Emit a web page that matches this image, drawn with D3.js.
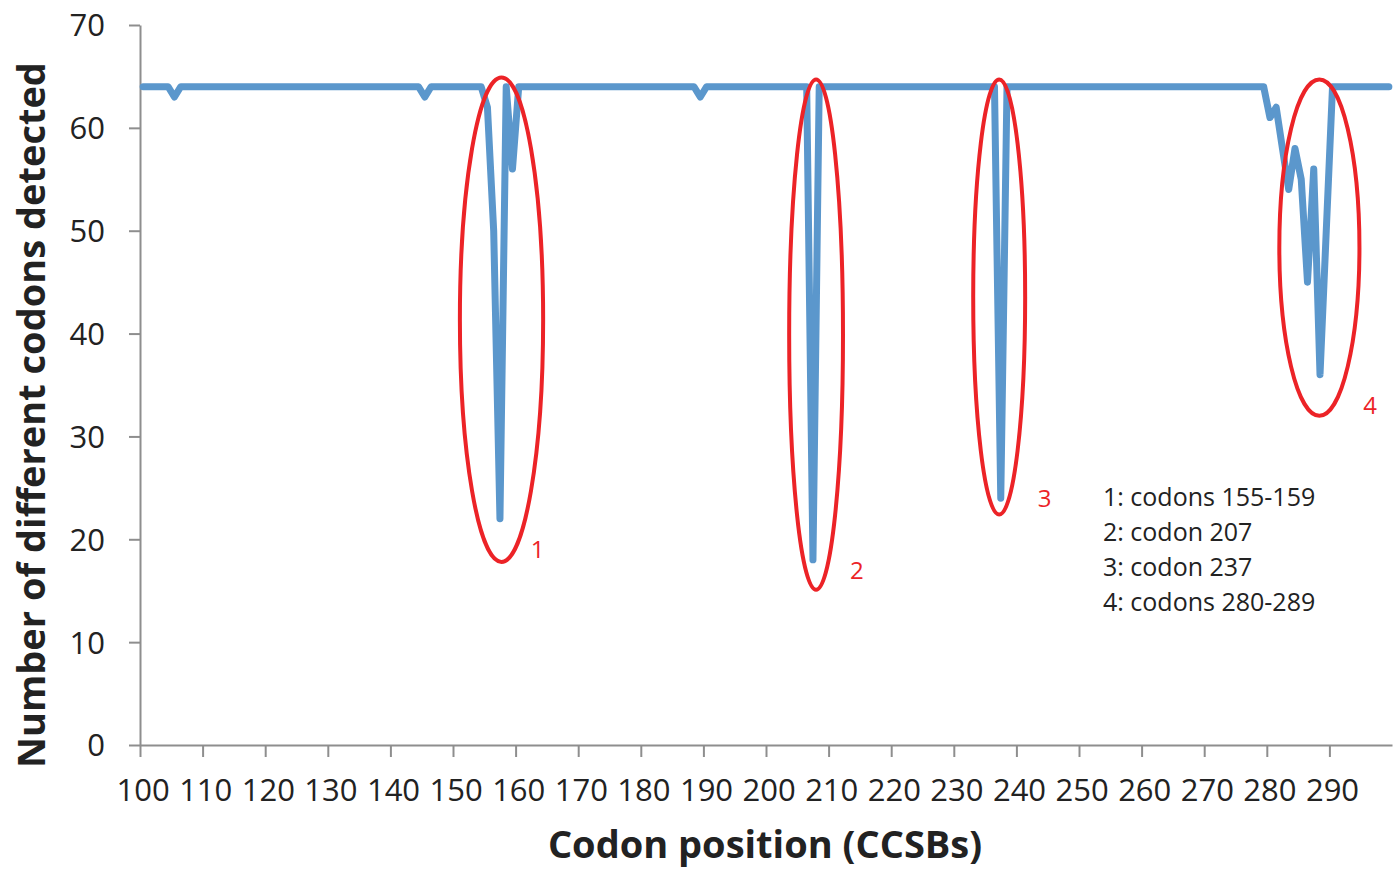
<!DOCTYPE html>
<html>
<head>
<meta charset="utf-8">
<script src="https://cdn.jsdelivr.net/npm/d3@7"></script>
<style>
  body { margin: 0; background: #fff; }
  text { font-family: "Open Sans", sans-serif; }
</style>
</head>
<body>
<svg id="svg1" width="1398" height="871"></svg>
<script>
"use strict"

// codon positions 100..299
const codons = d3.range(100, 300);

// number of different codons detected at each position
const detected = [
  64,64,64,64,64,63,64,64,64,64,   // 100
  64,64,64,64,64,64,64,64,64,64,   // 110
  64,64,64,64,64,64,64,64,64,64,   // 120
  64,64,64,64,64,64,64,64,64,64,   // 130
  64,64,64,64,64,63,64,64,64,64,   // 140
  64,64,64,64,64,62,50,22,64,56,   // 150
  64,64,64,64,64,64,64,64,64,64,   // 160
  64,64,64,64,64,64,64,64,64,64,   // 170
  64,64,64,64,64,64,64,64,64,63,   // 180
  64,64,64,64,64,64,64,64,64,64,   // 190
  64,64,64,64,64,64,64,18,64,64,   // 200
  64,64,64,64,64,64,64,64,64,64,   // 210
  64,64,64,64,64,64,64,64,64,64,   // 220
  64,64,64,64,64,64,64,24,64,64,   // 230
  64,64,64,64,64,64,64,64,64,64,   // 240
  64,64,64,64,64,64,64,64,64,64,   // 250
  64,64,64,64,64,64,64,64,64,64,   // 260
  64,64,64,64,64,64,64,64,64,64,   // 270
  61,62,58,54,58,55,45,56,36,50,   // 280
  64,64,64,64,64,64,64,64,64,64    // 290
];

// axis ticks
const xTickLabels = d3.range(100, 300, 10);
const yTicks = [0, 10, 20, 30, 40, 50, 60, 70];

// highlighted regions: [codon from, codon to, value low, value high]
const regionBounds = [
  [150.6, 163.9, 17.8, 64.9],
  [203.2, 211.8, 15.1, 64.7],
  [232.6, 240.9, 22.4, 64.7],
  [281.5, 294.3, 32.0, 64.7]
];
const regionLabels = ["1", "2", "3", "4"];
// where each number sits: [codon, value]
const regionLabelPos = [[163, 19], [214, 17], [244, 24], [296, 33]];

const legendLines = [
  "1: codons 155-159",
  "2: codon 207",
  "3: codon 237",
  "4: codons 280-289"
];

const data = codons.map((c, i) => ({codon: c, value: detected[i]}));

const svg = d3.select("#svg1");
const margin = {left: 140, right: 6, top: 25, bottom: 126};
const width = 1398 - margin.left - margin.right;
const height = 871 - margin.top - margin.bottom;

// category axis: each codon in the middle of its slot
const x = d3.scaleLinear().domain([99.5, 299.5]).range([0, width]);
const y = d3.scaleLinear().domain([0, 70]).range([height, 0]);

const g = svg.append("g")
  .attr("transform", `translate(${margin.left},${margin.top})`);

const axisColor = "#8e8e8e";

// y axis
const yAxis = g.append("g")
  .call(d3.axisLeft(y).tickValues(yTicks).tickSize(11).tickSizeOuter(0).tickPadding(24));
yAxis.select(".domain").attr("stroke", axisColor).attr("stroke-width", 2);
yAxis.selectAll(".tick line").attr("stroke", axisColor).attr("stroke-width", 2);
yAxis.selectAll(".tick text")
  .attr("fill", "#222")
  .style("font-size", "31px")
  .style("font-family", "Open Sans")
  .attr("dy", "0.35em");

// x axis: tick marks between slots, labels under the codon itself
const xAxis = g.append("g")
  .attr("transform", `translate(0,${height})`)
  .call(d3.axisBottom(x).tickValues(xTickLabels.map(d => d - 0.5))
    .tickSize(12).tickSizeOuter(0).tickFormat(""));
xAxis.select(".domain").attr("stroke", axisColor).attr("stroke-width", 2);
xAxis.selectAll(".tick line").attr("stroke", axisColor).attr("stroke-width", 2);

g.selectAll(".xlabel")
  .data(xTickLabels)
  .enter().append("text")
    .attr("class", "xlabel")
    .attr("x", d => x(d))
    .attr("y", height + 56)
    .attr("text-anchor", "middle")
    .attr("fill", "#222")
    .style("font-size", "31px")
    .text(d => d);

// the line
const line = d3.line()
  .x(d => x(d.codon))
  .y(d => y(d.value));

g.append("path")
  .datum(data)
  .attr("d", line)
  .attr("fill", "none")
  .attr("stroke", "#5b97cc")
  .attr("stroke-width", 7)
  .attr("stroke-linejoin", "round")
  .attr("stroke-linecap", "round");

// red ellipses around the dips
g.selectAll(".region")
  .data(regionBounds)
  .enter().append("ellipse")
    .attr("class", "region")
    .attr("cx", d => (x(d[0]) + x(d[1])) / 2)
    .attr("cy", d => (y(d[2]) + y(d[3])) / 2)
    .attr("rx", d => (x(d[1]) - x(d[0])) / 2)
    .attr("ry", d => (y(d[2]) - y(d[3])) / 2)
    .attr("fill", "none")
    .attr("stroke", "#ec2327")
    .attr("stroke-width", 4);

g.selectAll(".region-label")
  .data(regionLabelPos)
  .enter().append("text")
    .attr("class", "region-label")
    .attr("x", d => x(d[0]))
    .attr("y", d => y(d[1]))
    .attr("dy", "0.35em")
    .attr("text-anchor", "middle")
    .attr("fill", "#ec2327")
    .style("font-size", "24px")
    .text((d, i) => regionLabels[i]);

// legend text
g.selectAll(".legend")
  .data(legendLines)
  .enter().append("text")
    .attr("class", "legend")
    .attr("x", 1103 - margin.left)
    .attr("y", (d, i) => 472 + i * 35)
    .attr("dy", "0.35em")
    .attr("fill", "#222")
    .style("font-size", "25px")
    .text(d => d);

// axis titles
svg.append("text")
  .attr("transform", `translate(45,415) rotate(-90)`)
  .attr("text-anchor", "middle")
  .attr("fill", "#222")
  .style("font-size", "38px")
  .style("font-weight", "bold")
  .text("Number of different codons detected");

svg.append("text")
  .attr("x", 765)
  .attr("y", 858)
  .attr("text-anchor", "middle")
  .attr("fill", "#222")
  .style("font-size", "38px")
  .style("font-weight", "bold")
  .text("Codon position (CCSBs)");
</script>
</body>
</html>
